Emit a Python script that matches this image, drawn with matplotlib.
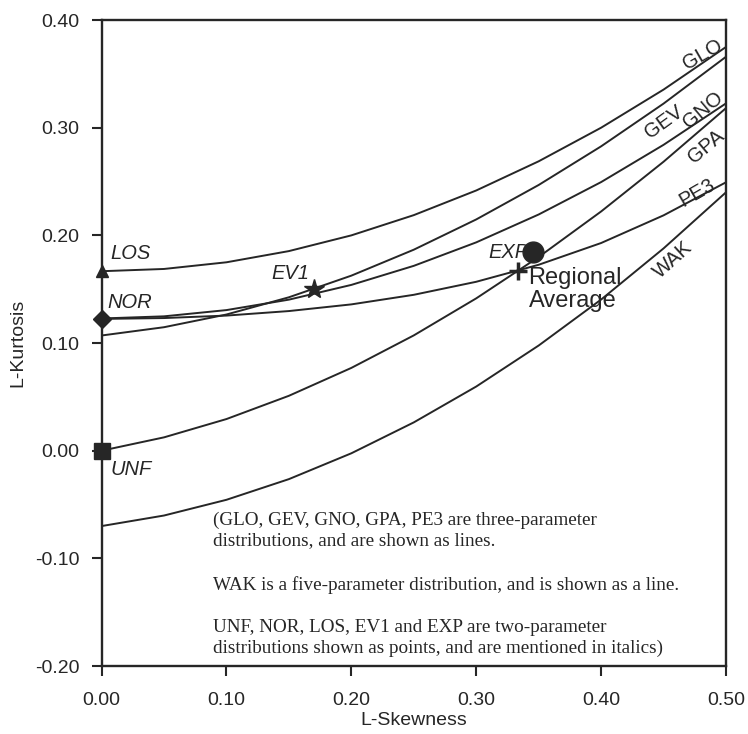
import matplotlib
matplotlib.use("Agg")
import matplotlib.pyplot as plt

# ---------------- data ----------------
tau3 = [0.00, 0.05, 0.10, 0.15, 0.20, 0.25, 0.30, 0.35, 0.40, 0.45, 0.50]
glo = [0.1667, 0.1688, 0.1750, 0.1854, 0.2000, 0.2188, 0.2417, 0.2688, 0.3000, 0.3354, 0.3750]
gev = [0.1070, 0.1147, 0.1265, 0.1425, 0.1626, 0.1867, 0.2148, 0.2468, 0.2827, 0.3224, 0.3659]
gno = [0.1228, 0.1248, 0.1306, 0.1403, 0.1540, 0.1717, 0.1935, 0.2194, 0.2495, 0.2841, 0.3226]
gpa = [0.0000, 0.0124, 0.0294, 0.0510, 0.0769, 0.1071, 0.1415, 0.1799, 0.2222, 0.2684, 0.3182]
pe3 = [0.1224, 0.1232, 0.1255, 0.1297, 0.1359, 0.1448, 0.1569, 0.1727, 0.1929, 0.2186, 0.2493]
wak = [-0.0700, -0.0602, -0.0456, -0.0264, -0.0024, 0.0263, 0.0596, 0.0977, 0.1404, 0.1879, 0.2400]

line_names = ["GLO", "GEV", "GNO", "GPA", "PE3", "WAK"]
line_label_t3 = [0.4814, 0.4500, 0.4813, 0.4838, 0.4766, 0.4573]
line_label_t4 = [0.3675, 0.3053, 0.3164, 0.2820, 0.2393, 0.1771]
line_label_rot = [30, 36, 40, 40, 30, 42]

point_names = ["UNF", "NOR", "LOS", "EV1", "EXP"]
point_t3 = [0.0, 0.0, 0.0, 0.1699, 0.3333]
point_t4 = [0.0, 0.1226, 0.1667, 0.1504, 0.1667]
point_markers = ["s", "D", "^", "*", "+"]
point_label_t3 = [0.0075, 0.0045, 0.0070, 0.1360, 0.3098]
point_label_t4 = [-0.0172, 0.1381, 0.1836, 0.1650, 0.1845]

regional_t3 = 0.3458
regional_t4 = 0.1846

note_lines = [
    "(GLO, GEV, GNO, GPA, PE3 are three-parameter",
    "distributions, and are shown as lines.",
    "WAK is a five-parameter distribution, and is shown as a line.",
    "UNF, NOR, LOS, EV1 and EXP are two-parameter",
    "distributions shown as points, and are mentioned in italics)",
]
note_t4 = [-0.0644, -0.0839, -0.1248, -0.1638, -0.1833]
note_t3 = 0.0895

xticks = [0.00, 0.10, 0.20, 0.30, 0.40, 0.50]
yticks = [-0.20, -0.10, 0.00, 0.10, 0.20, 0.30, 0.40]

# ---------------- figure ----------------
C = "#262626"
SANS = ["Liberation Sans", "DejaVu Sans"]
SERIF = ["Liberation Serif", "DejaVu Serif"]

fig = plt.figure(figsize=(7.48, 7.34), dpi=100)
ax = fig.add_axes([0.1358, 0.0926, 0.8348, 0.8801])

series = [glo, gev, gno, gpa, pe3, wak]
for ys in series:
    ax.plot(tau3, ys, color=C, lw=1.4, zorder=2)

for name, x, y, rot in zip(line_names, line_label_t3, line_label_t4, line_label_rot):
    ax.text(x, y, name, rotation=rot, ha="center", va="center", fontsize=14.5,
            family=SANS, color=C, rotation_mode="anchor", zorder=3)

msizes = {"s": 12, "D": 9, "^": 8, "*": 15, "+": 13}
for name, x, y, m in zip(point_names, point_t3, point_t4, point_markers):
    ax.plot([x], [y], marker=m, markersize=msizes[m], color=C,
            markeredgewidth=2.5 if m == "+" else 1.0, linestyle="none",
            clip_on=False, zorder=4)

for name, x, y in zip(point_names, point_label_t3, point_label_t4):
    ax.text(x, y, name, ha="left", va="center", fontsize=14.5, style="italic",
            family=SANS, color=C, zorder=3)

ax.plot([regional_t3], [regional_t4], marker="o", markersize=15, color=C,
        linestyle="none", zorder=6)
ax.text(0.3419, 0.1497, "Regional\nAverage", ha="left", va="center",
        fontsize=17, family=SANS, color=C, linespacing=1.1, zorder=5)

for line, y in zip(note_lines, note_t4):
    ax.text(note_t3, y, line, ha="left", va="center", fontsize=13.8,
            family=SERIF, color=C)

ax.set_xlim(0.0, 0.5)
ax.set_ylim(-0.2, 0.4)
ax.set_xticks(xticks)
ax.set_yticks(yticks)
ax.set_xticklabels([f"{v:.2f}" for v in xticks], family=SANS)
ax.set_yticklabels([f"{v:.2f}" for v in yticks], family=SANS)
ax.tick_params(axis="x", direction="out", length=7, width=1.5, colors=C,
               labelsize=14, pad=12)
ax.tick_params(axis="y", direction="out", length=7, width=1.5, colors=C,
               labelsize=14, pad=9)
for s in ax.spines.values():
    s.set_linewidth(1.7)
    s.set_color(C)

ax.set_xlabel("L-Skewness", fontsize=14, family=SANS, color=C, labelpad=2)
ax.set_ylabel("L-Kurtosis", fontsize=14, family=SANS, color=C, labelpad=6)

fig.savefig("out.png", dpi=100)
